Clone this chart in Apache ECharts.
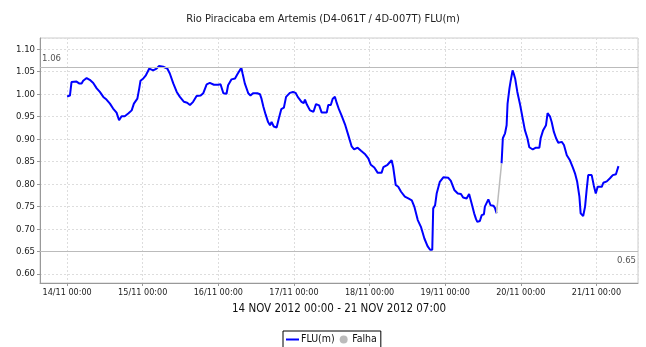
<!DOCTYPE html>
<html>
<head>
<meta charset="utf-8">
<script src="https://cdn.jsdelivr.net/npm/echarts@6/dist/echarts.min.js"></script>
<style>
  html, body { margin: 0; padding: 0; background: #fff; }
  #chart { width: 646px; height: 347px; }
</style>
</head>
<body>
<div id="chart"></div>
<script>
// Station and period
const chartTitle = 'Rio Piracicaba em Artemis (D4-061T / 4D-007T) FLU(m)';
const periodLabel = '14 NOV 2012 00:00 - 21 NOV 2012 07:00';
const seriesNames = ['FLU(m)', 'Falha'];

// Observation times, in hours after 14/11/2012 00:00
const obsHours = [
  0, 0.9, 1.4, 3.0, 3.8, 4.6, 5.1, 6.2, 7.2, 8.3, 9.4, 10.4, 11.5, 12.5, 13.6, 14.6,
  15.7, 16.5, 17.3, 18.3, 19.4, 20.5, 21.2, 22.3, 22.9, 23.3, 24.2, 25.0, 26.1, 27.3,
  28.4, 29.2, 30.5, 31.8, 32.6, 33.7, 34.8, 35.8, 37.1, 38.1, 39.0, 40.0, 41.1, 42.4,
  43.2, 44.3, 45.3, 46.6, 48.0, 48.7, 49.6, 50.6, 51.1, 52.2, 53.3, 54.0, 54.6, 55.3,
  55.7, 56.4, 57.5, 58.2, 59.0, 60.4, 61.2, 61.7, 62.3, 63.0, 63.8, 64.4, 64.9, 65.6,
  66.5, 67.2, 68.0, 68.8, 69.5, 70.7, 71.7, 72.5, 73.2, 74.4, 75.1, 75.5, 76.1, 77.1,
  78.2, 79.0, 80.0, 80.8, 82.4, 82.9, 83.7, 84.3, 85.0, 85.6, 86.3, 87.1, 88.2, 89.2,
  90.3, 91.1, 92.2, 93.3, 94.5, 95.6, 96.4, 97.5, 98.6, 99.8, 100.4, 101.7, 103.0, 103.5,
  104.3, 105.1, 106.0, 107.2, 108.3, 109.4, 110.2, 111.3, 112.3, 113.4, 114.4, 115.2,
  115.9, 116.2, 116.8, 117.3, 118.3, 119.4, 121.0, 121.8, 122.9, 124.0, 125.0, 125.7,
  126.8, 127.6, 128.4, 129.2, 129.8, 130.2, 131.0, 131.6, 132.3, 132.6, 133.2, 133.7,
  134.4, 135.3, 135.8, 136.3, 137.1, 137.9, 138.3, 139.0, 139.5, 139.8, 140.4, 140.8,
  141.4, 141.7, 142.2, 142.9, 143.8, 144.6, 145.3, 146.1, 146.7, 147.8, 148.8, 149.9,
  150.3, 151.1, 152.0, 152.5, 153.3, 153.8, 154.5, 155.2, 155.9, 157.0, 157.7, 158.6,
  159.6, 160.5, 161.2, 161.9, 162.6, 163.0, 163.8, 164.4, 164.9, 165.4, 166.5, 167.2,
  167.8, 168.4, 169.7, 170.2, 171.3, 172.3, 173.2, 174.2, 175.0
];

// River level FLU(m); null = missing reading (Falha)
const fluLevels = [
  0.995, 0.997, 1.027, 1.028, 1.024, 1.024, 1.030, 1.036, 1.032, 1.025, 1.013, 1.005, 0.994, 0.988, 0.979, 0.968,
  0.959, 0.942, 0.951, 0.951, 0.957, 0.964, 0.979, 0.990, 1.013, 1.030, 1.035, 1.042, 1.057, 1.053,
  1.057, 1.063, 1.061, 1.057, 1.046, 1.024, 1.005, 0.994, 0.983, 0.981, 0.976, 0.983, 0.996, 0.997,
  1.002, 1.022, 1.025, 1.021, 1.021, 1.022, 1.002, 1.001, 1.020, 1.033, 1.035, 1.044, 1.046, 1.059,
  1.046, 1.024, 1.002, 0.997, 1.002, 1.002, 1.000, 0.990, 0.972, 0.955, 0.938, 0.931, 0.938, 0.928,
  0.926, 0.946, 0.967, 0.970, 0.994, 1.003, 1.005, 1.003, 0.994, 0.983, 0.980, 0.988, 0.977, 0.964,
  0.961, 0.978, 0.975, 0.959, 0.959, 0.976, 0.976, 0.990, 0.994, 0.980, 0.966, 0.953, 0.933, 0.910,
  0.884, 0.877, 0.881, 0.874, 0.867, 0.857, 0.843, 0.837, 0.825, 0.825, 0.838, 0.843, 0.853, 0.838,
  0.798, 0.794, 0.783, 0.772, 0.768, 0.764, 0.750, 0.720, 0.705, 0.679, 0.662, 0.654,
  0.654, 0.746, 0.753, 0.779, 0.805, 0.815, 0.814, 0.807, 0.787, 0.779, 0.778, 0.770,
  0.768, 0.778, 0.757, 0.735, 0.722, 0.716, 0.718, 0.731, 0.733, 0.750, 0.751, 0.766,
  0.753, 0.752, 0.747, 0.735, null, 0.846, 0.902, 0.913, 0.931, 0.979, 1.013, 1.030,
  1.053, 1.047, 1.035, 1.005, 0.976, 0.946, 0.920, 0.902, 0.882, 0.877, 0.881, 0.881,
  0.902, 0.920, 0.931, 0.958, 0.950, 0.938, 0.916, 0.902, 0.892, 0.894, 0.887, 0.864,
  0.853, 0.837, 0.824, 0.805, 0.772, 0.735, 0.729, 0.750, 0.787, 0.820, 0.820, 0.796,
  0.779, 0.794, 0.794, 0.803, 0.806, 0.813, 0.820, 0.822, 0.840
];

// Period max / min reference lines
const referenceLevels = [1.06, 0.65];

const FONT = '"Liberation Sans Narrow","DejaVu Sans Condensed","Arial Narrow",sans-serif';
const startTime = new Date(2012, 10, 14, 0, 0).getTime();

function pad(n) { return (n < 10 ? '0' : '') + n; }
function hourLabel(h) {
  const d = new Date(startTime + h * 3600000);
  return pad(d.getDate()) + '/' + pad(d.getMonth() + 1) + ' ' + pad(d.getHours()) + ':' + pad(d.getMinutes());
}

const fluData = obsHours.map((h, i) => [h, fluLevels[i]]);

// Gap connectors: join the readings on each side of a missing value
const falhaData = [];
fluLevels.forEach((v, i) => {
  if (v === null && i > 0 && i < fluLevels.length - 1) {
    if (falhaData.length) falhaData.push([obsHours[i], null]);
    falhaData.push([obsHours[i - 1], fluLevels[i - 1]]);
    falhaData.push([obsHours[i + 1], fluLevels[i + 1]]);
  }
});

const chart = echarts.init(document.getElementById('chart'), null, { renderer: 'canvas' });
chart.setOption({
  animation: false,
  backgroundColor: '#ffffff',
  title: {
    text: chartTitle,
    left: 'center',
    top: 9,
    textStyle: { fontFamily: FONT, fontSize: 11, fontWeight: 'normal', color: '#222' }
  },
  legend: {
    left: 283,
    top: 331,
    padding: [3, 4, 3, 3],
    itemGap: 5,
    itemWidth: 13,
    itemHeight: 8,
    borderColor: '#000',
    borderWidth: 1,
    textStyle: { fontFamily: FONT, fontSize: 10.5, color: '#111', padding: [0, 0, 0, -3] },
    data: [
      { name: seriesNames[0], icon: 'path://M0,0 L13,0 L13,2 L0,2 Z' },
      { name: seriesNames[1], icon: 'circle' }
    ]
  },
  grid: {
    left: 40, right: 8, top: 38, bottom: 64,
    show: true, borderColor: '#cccccc', borderWidth: 1
  },
  xAxis: {
    type: 'value',
    min: -8.6,
    max: 181.2,
    minInterval: 24,
    maxInterval: 24,
    splitNumber: 8,
    name: periodLabel,
    nameLocation: 'middle',
    nameGap: 20,
    nameTextStyle: { fontFamily: FONT, fontSize: 11.5, color: '#111' },
    axisLine: { show: true, onZero: false, lineStyle: { color: '#999' } },
    axisTick: { show: true, length: 3, lineStyle: { color: '#999' } },
    axisLabel: {
      formatter: hourLabel, showMinLabel: false, showMaxLabel: false,
      fontFamily: FONT, fontSize: 9, color: '#222', margin: 5
    },
    splitLine: { show: true, lineStyle: { color: '#dddddd', type: [2, 2] } }
  },
  yAxis: {
    type: 'value',
    min: 0.58,
    max: 1.125,
    minInterval: 0.05,
    maxInterval: 0.05,
    splitNumber: 11,
    axisLine: { show: true, onZero: false, lineStyle: { color: '#999' } },
    axisTick: { show: true, length: 3, lineStyle: { color: '#999' } },
    axisLabel: {
      formatter: v => v.toFixed(2), showMinLabel: false, showMaxLabel: false,
      fontFamily: FONT, fontSize: 9.5, color: '#222', margin: 5
    },
    splitLine: { show: true, lineStyle: { color: '#dddddd', type: [2, 2] } }
  },
  series: [
    {
      name: seriesNames[0],
      type: 'line',
      data: fluData,
      symbol: 'none',
      connectNulls: false,
      lineStyle: { color: '#0000ff', width: 2 },
      itemStyle: { color: '#0000ff' },
      markLine: {
        silent: true,
        symbol: 'none',
        lineStyle: { color: '#bbbbbb', type: 'solid', width: 1 },
        data: [
          { yAxis: referenceLevels[0], label: { formatter: referenceLevels[0].toFixed(2), position: 'insideStartTop' } },
          { yAxis: referenceLevels[1], label: { formatter: referenceLevels[1].toFixed(2), position: 'insideEndBottom' } }
        ],
        label: { fontFamily: FONT, fontSize: 9.5, color: '#555', distance: [2, 4] }
      }
    },
    {
      name: seriesNames[1],
      type: 'line',
      data: falhaData,
      symbol: 'none',
      lineStyle: { color: '#bbbbbb', width: 1.5 },
      itemStyle: { color: '#bbbbbb' }
    }
  ]
});
</script>
</body>
</html>
